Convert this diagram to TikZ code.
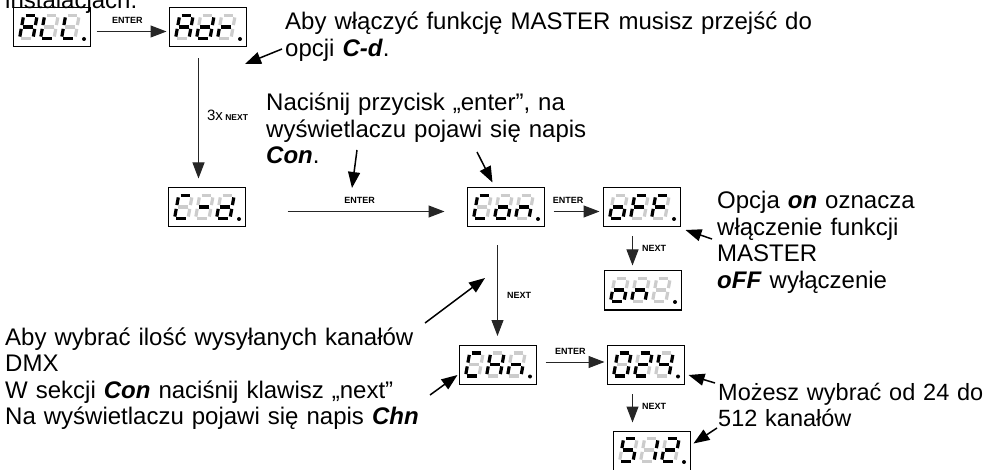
\documentclass[tikz,border=0pt]{standalone}
\usepackage{fontspec}
\setmainfont{Liberation Sans}
\usetikzlibrary{arrows.meta,calc}

\tikzset{
  disp/.style={draw=black, line width=1pt, minimum width=77pt, minimum height=39pt, inner sep=0pt},
  segL/.style={draw=black, line width=3.2pt},
  segU/.style={draw=black!20, line width=3.2pt},
  conn/.style={draw=black!85, line width=1pt, -{Triangle[length=16pt,width=12pt]}},
  pointer/.style={draw=black, line width=1.5pt, -{Triangle[length=16pt,width=12pt]}},
  lab/.style={font=\fontsize{9}{10}\selectfont\bfseries, inner sep=1pt},
  txt/.style={font=\fontsize{24}{26.5}\selectfont, align=left, text width=640pt, inner sep=0pt, anchor=base west},
}

% seven segments a b c d e f g; L = lit, U = unlit
\newcommand\segdraw[7]{%
  \draw[seg#1] (1.9,-23) -- (11.6,-23);
  \draw[seg#2] (13.5,-21.1) -- (13.5,-13.4);
  \draw[seg#3] (13.5,-9.6) -- (13.5,-1.9);
  \draw[seg#4] (1.9,0) -- (11.6,0);
  \draw[seg#5] (0,-9.6) -- (0,-1.9);
  \draw[seg#6] (0,-21.1) -- (0,-13.4);
  \draw[seg#7] (1.9,-11.5) -- (11.6,-11.5);
}
\newcommand\segdigit[3]{%
  \begin{scope}[shift={($(#1.north west)+(7+21*#2,31)$)}, xslant=0.18]
    \segdraw#3%
  \end{scope}}
\newcommand\segdisplay[4]{%
  \segdigit{#1}{0}{#2}\segdigit{#1}{1}{#3}\segdigit{#1}{2}{#4}%
  \fill ($(#1.north west)+(71.5,31.5)$) circle (2pt);}

\begin{document}
\begin{tikzpicture}[x=1pt, y=-1pt]
\useasboundingbox (0,0) rectangle (985,470);
\clip (0,0) rectangle (985,470);

% displays
\node[disp] (vALL) at (51.5,27.5) {};
\node[disp] (vAdr) at (207.5,27.5) {};
\node[disp] (vCd)  at (206.5,207.5) {};
\node[disp] (vCon) at (505.5,207.5) {};
\node[disp] (vOFF) at (641.5,207.5) {};
\node[disp] (vOn)  at (642.5,290.5) {};
\node[disp] (vCHn) at (497.5,365) {};
\node[disp] (v024) at (645.5,365) {};
\node[disp] (v512) at (651.5,450.5) {};

\segdisplay{vALL}{LLLULLL}{UUULLLU}{UUULLLU}
\segdisplay{vAdr}{LLLULLL}{ULLLLUL}{UUUULUL}
\segdisplay{vCd}{LUULLLU}{UUUUUUL}{ULLLLUL}
\segdisplay{vCon}{LUULLLU}{UULLLUL}{UULULUL}
\segdisplay{vOFF}{UULLLUL}{LUUULLL}{LUUULLL}
\segdisplay{vOn}{UULLLUL}{UULULUL}{UUUUUUU}
\segdisplay{vCHn}{LUULLLU}{ULLULLL}{UULULUL}
\segdisplay{v024}{LLLLLLU}{LLULLUL}{ULLUULL}
\segdisplay{v512}{LULLULL}{ULLUUUU}{LLULLUL}

% texts
\node[txt] (tInst) at (5,9) {instalacjach.};
\node[txt] (tMaster) at (285,30) {Aby włączyć funkcję MASTER musisz przejść do\\opcji \textbf{\textit{C-d}}.};
\node[txt] (tCon) at (266,111) {Naciśnij przycisk „enter”, na\\wyświetlaczu pojawi się napis\\\textbf{\textit{Con}}.};
\node[txt] (tOpcja) at (717,209) {Opcja \textbf{\textit{on}} oznacza\\włączenie funkcji\\MASTER\\\textbf{\textit{oFF}} wyłączenie};
\node[txt] (tKanaly) at (5,345) {Aby wybrać ilość wysyłanych kanałów\\DMX\\W sekcji \textbf{\textit{Con}} naciśnij klawisz „next”\\Na wyświetlaczu pojawi się napis \textbf{\textit{Chn}}};
\node[txt, font=\fontsize{23.5}{26}\selectfont] (tMozesz) at (718,400) {Możesz wybrać od 24 do\\512 kanałów};

% flow connectors
\draw[conn] ($(vALL.east)+(6,4)$) -- node[lab, pos=0.44, above=6pt] {ENTER} ($(vAdr.west)+(-2,4)$);
\draw[conn] ($(vAdr.south west)+(30,11)$) --
  node[pos=0.47, right=8pt, inner sep=0pt] {\fontsize{15}{16}\selectfont 3x\,{\fontsize{8.5}{9}\selectfont\bfseries NEXT}}
  ($(vCd.north west)+(31,-9)$);
\draw[conn] ($(vCd.east)+(42,4)$) -- node[lab, pos=0.46, above=6pt] {ENTER} ($(vCon.west)+(-22,4)$);
\draw[conn] ($(vCon.east)+(9,4)$) -- node[lab, pos=0.32, above=6pt] {ENTER} ($(vOFF.west)+(-3,4)$);
\draw[conn] ($(vOFF.south west)+(30,9)$) -- node[lab, pos=0.42, right=8pt] {NEXT} ($(vOn.north west)+(29,-5)$);
\draw[conn] ($(vCon.south west)+(31,18)$) -- node[lab, pos=0.55, right=8pt] {NEXT} ($(vCHn.north west)+(39,-9)$);
\draw[conn] ($(vCHn.east)+(9,-3)$) -- node[lab, pos=0.42, above=6pt] {ENTER} ($(v024.west)+(-2,-3)$);
\draw[conn] ($(v024.south west)+(26,9)$) -- node[lab, pos=0.43, right=8pt] {NEXT} ($(v512.north west)+(20,-8)$);

% pointers from the notes
\coordinate (pMaster) at (282,49);
\coordinate (pConTxt) at (357,150);
\coordinate (pConBox) at (477,152);
\coordinate (pOpcja) at (712,239);
\coordinate (pKan1) at (425,323);
\coordinate (pKan2) at (430,395);
\coordinate (pMoz1) at (715,383);
\coordinate (pMoz2) at (717,428);
\coordinate (hMaster) at (245,64);
\coordinate (hEnter) at (352,188);
\coordinate (hNext) at (485,278);

\draw[pointer] (pMaster) -- (hMaster);
\draw[pointer] (pConTxt) -- (hEnter);
\draw[pointer] (pConBox) -- ($(vCon.north west)+(26,-5)$);
\draw[pointer] (pOpcja) -- ($(vOFF.east)+(5,22.5)$);
\draw[pointer] (pKan1) -- (hNext);
\draw[pointer] (pKan2) -- ($(vCHn.west)+(-1,10)$);
\draw[pointer] (pMoz1) -- ($(v024.east)+(4,10)$);
\draw[pointer] (pMoz2) -- ($(v512.east)+(3,-7)$);
\end{tikzpicture}
\end{document}
